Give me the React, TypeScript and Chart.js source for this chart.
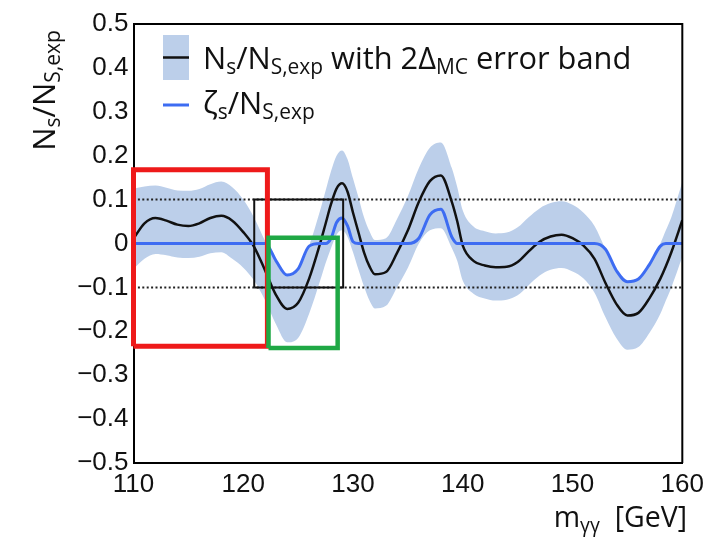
import React, { useEffect, useRef } from 'react';
import { Chart, registerables } from 'chart.js';

Chart.register(...registerables);

// ---------- data ----------
const massGeV = [
  110, 111, 112, 113, 114, 115, 116, 117, 118, 119, 120, 121, 122, 123, 124, 125, 126, 127, 127.5, 128, 128.5, 129,
  129.5, 130, 130.5, 131, 131.5, 132, 133, 134, 135, 136, 137, 138, 139, 139.5, 140, 141, 142, 143, 144, 145, 146,
  147, 148, 149, 150, 151, 152, 153, 154, 155, 156, 157, 158, 158.5, 159, 160,
];
const nsRatio = [
  0.011, 0.046, 0.058, 0.052, 0.043, 0.04, 0.046, 0.058, 0.063, 0.052, 0.026, -0.008, -0.062, -0.118, -0.149, -0.135,
  -0.08, 0.0, 0.045, 0.09, 0.125, 0.137, 0.118, 0.07, 0.025, -0.02, -0.052, -0.07, -0.065, -0.022, 0.03, 0.095, 0.142,
  0.155, 0.095, 0.05, -0.005, -0.04, -0.05, -0.054, -0.053, -0.042, -0.018, 0.004, 0.016, 0.02, 0.012, -0.005, -0.035,
  -0.09, -0.138, -0.164, -0.158, -0.125, -0.08, -0.052, -0.02, 0.053,
];
const bandUpper = [
  0.125, 0.13, 0.132, 0.127, 0.121, 0.12, 0.124, 0.135, 0.141, 0.128, 0.1, 0.058, 0.005, -0.045, -0.072, -0.06, -0.005,
  0.075, 0.12, 0.165, 0.2, 0.212, 0.192, 0.148, 0.105, 0.06, 0.028, 0.008, 0.012, 0.055, 0.108, 0.172, 0.218, 0.23,
  0.172, 0.128, 0.075, 0.038, 0.028, 0.023, 0.025, 0.037, 0.06, 0.08, 0.092, 0.096, 0.088, 0.07, 0.04, -0.012, -0.06,
  -0.086, -0.08, -0.046, 0.0, 0.03, 0.06, 0.14,
];
const bandLower = [
  -0.058, -0.035, -0.024, -0.027, -0.032, -0.033, -0.03, -0.022, -0.02, -0.035, -0.055, -0.085, -0.13, -0.185, -0.225,
  -0.215, -0.16, -0.085, -0.045, -0.01, 0.02, 0.03, 0.015, -0.02, -0.06, -0.098, -0.13, -0.148, -0.142, -0.1, -0.055,
  0.0, 0.03, 0.035, -0.01, -0.04, -0.085, -0.115, -0.125, -0.13, -0.128, -0.118, -0.095, -0.073, -0.06, -0.056,
  -0.064, -0.08, -0.112, -0.168, -0.216, -0.242, -0.236, -0.204, -0.16, -0.13, -0.1, -0.03,
];
const zetaRatio = [
  0, 0, 0, 0, 0, 0, 0, 0, 0, 0, 0, 0, 0, -0.04, -0.072, -0.058, -0.006, 0, 0, 0.012, 0.048, 0.058, 0.04, 0.004, 0, 0,
  0, 0, 0, 0, 0, 0.012, 0.065, 0.078, 0.015, 0, 0, 0, 0, 0, 0, 0, 0, 0, 0, 0, 0, 0, 0, -0.013, -0.062, -0.087, -0.081,
  -0.048, -0.006, 0, 0, 0,
];
const xTickValues = [110, 120, 130, 140, 150, 160];
const yTickLabels = ['−0.5', '−0.4', '−0.3', '−0.2', '−0.1', '0', '0.1', '0.2', '0.3', '0.4', '0.5'];
const dottedLevels = [0.1, -0.1];
const redBoxX = [110, 122.2];
const redBoxY = [-0.234, 0.168];
const blackBoxX = [121.0, 129.1];
const blackBoxY = [-0.1, 0.1];
const greenBoxX = [122.3, 128.6];
const greenBoxY = [-0.238, 0.013];

const BAND = '#bccfea';
const BLUE = '#3d6cf2';
const SANS = '"Liberation Sans", Arial, sans-serif';
const LEG = '"Open Sans", "Noto Sans", sans-serif';

type Part = { t: string; sub?: boolean };

function drawRich(ctx: CanvasRenderingContext2D, parts: Part[], x: number, y: number, size: number, align: 'left' | 'right') {
  const subSize = size * 0.68;
  const widths = parts.map((p) => {
    ctx.font = `${p.sub ? subSize : size}px ${LEG}`;
    return ctx.measureText(p.t).width;
  });
  const total = widths.reduce((a, b) => a + b, 0);
  let cx = align === 'left' ? x : x - total;
  ctx.textAlign = 'left';
  ctx.textBaseline = 'alphabetic';
  parts.forEach((p, i) => {
    ctx.font = `${p.sub ? subSize : size}px ${LEG}`;
    ctx.fillText(p.t, cx, p.sub ? y + size * 0.17 : y);
    cx += widths[i];
  });
}

const boxPoints = (bx: number[], by: number[]) => [
  { x: bx[0], y: by[0] },
  { x: bx[1], y: by[0] },
  { x: bx[1], y: by[1] },
  { x: bx[0], y: by[1] },
  { x: bx[0], y: by[0] },
];

const decorPlugin = {
  id: 'decor',
  afterDraw(chart: any) {
    const { ctx, chartArea } = chart;
    ctx.save();
    // frame top & right
    ctx.strokeStyle = '#000';
    ctx.lineWidth = 2;
    ctx.beginPath();
    ctx.moveTo(chartArea.left, chartArea.top);
    ctx.lineTo(chartArea.right, chartArea.top);
    ctx.lineTo(chartArea.right, chartArea.bottom);
    ctx.stroke();

    // legend
    ctx.fillStyle = BAND;
    ctx.fillRect(163, 35, 26, 45);
    ctx.strokeStyle = '#111';
    ctx.lineWidth = 2.5;
    ctx.beginPath();
    ctx.moveTo(163, 57.5);
    ctx.lineTo(189, 57.5);
    ctx.stroke();
    ctx.strokeStyle = BLUE;
    ctx.lineWidth = 3;
    ctx.beginPath();
    ctx.moveTo(163, 105);
    ctx.lineTo(189, 105);
    ctx.stroke();

    ctx.fillStyle = '#111';
    drawRich(
      ctx,
      [
        { t: 'N' },
        { t: 's', sub: true },
        { t: '/N' },
        { t: 'S,exp', sub: true },
        { t: ' with 2Δ' },
        { t: 'MC', sub: true },
        { t: ' error band' },
      ],
      203,
      69,
      30.8,
      'left'
    );
    drawRich(ctx, [{ t: 'ζ' }, { t: 's', sub: true }, { t: '/N' }, { t: 'S,exp', sub: true }], 203, 114, 30.8, 'left');

    // x title
    drawRich(ctx, [{ t: 'm' }, { t: 'γγ', sub: true }, { t: '  [GeV]' }], 687, 527, 28.5, 'right');

    // y title
    ctx.save();
    ctx.translate(55, 30);
    ctx.rotate(-Math.PI / 2);
    drawRich(ctx, [{ t: 'N' }, { t: 's', sub: true }, { t: '/N' }, { t: 'S,exp', sub: true }], 0, 0, 31, 'right');
    ctx.restore();
    ctx.restore();
  },
};

export default function App() {
  const ref = useRef<HTMLCanvasElement | null>(null);
  useEffect(() => {
    if (!ref.current) return;
    const pts = (ys: number[]) => massGeV.map((m, i) => ({ x: m, y: ys[i] }));
    const chart = new Chart(ref.current, {
      type: 'line',
      data: {
        datasets: [
          {
            label: 'band upper',
            data: pts(bandUpper),
            borderWidth: 0,
            borderColor: 'rgba(0,0,0,0)',
            backgroundColor: BAND,
            fill: '+1',
            pointRadius: 0,
            cubicInterpolationMode: 'monotone',
            order: 20,
          },
          {
            label: 'band lower',
            data: pts(bandLower),
            borderWidth: 0,
            borderColor: 'rgba(0,0,0,0)',
            fill: false,
            pointRadius: 0,
            cubicInterpolationMode: 'monotone',
            order: 21,
          },
          ...dottedLevels.map((lv) => ({
            label: 'dotted',
            data: [
              { x: xTickValues[0], y: lv },
              { x: xTickValues[xTickValues.length - 1], y: lv },
            ],
            borderColor: '#222',
            borderWidth: 2,
            borderDash: [2, 2.4],
            pointRadius: 0,
            fill: false,
            order: 15,
          })),
          {
            label: 'Ns',
            data: pts(nsRatio),
            borderColor: '#111',
            borderWidth: 2.5,
            pointRadius: 0,
            fill: false,
            cubicInterpolationMode: 'monotone',
            order: 6,
          },
          {
            label: 'zeta',
            data: pts(zetaRatio),
            borderColor: BLUE,
            borderWidth: 3,
            pointRadius: 0,
            fill: false,
            cubicInterpolationMode: 'monotone',
            order: 5,
          },
          {
            label: 'black box',
            data: boxPoints(blackBoxX, blackBoxY),
            borderColor: '#111',
            borderWidth: 2,
            pointRadius: 0,
            fill: false,
            tension: 0,
            clip: false,
            order: 3,
          },
          {
            label: 'red box',
            data: boxPoints(redBoxX, redBoxY),
            borderColor: '#ee1a1a',
            borderWidth: 5,
            borderJoinStyle: 'miter',
            pointRadius: 0,
            fill: false,
            tension: 0,
            clip: false,
            order: 2,
          },
          {
            label: 'green box',
            data: boxPoints(greenBoxX, greenBoxY),
            borderColor: '#1fa845',
            borderWidth: 4.5,
            borderJoinStyle: 'miter',
            pointRadius: 0,
            fill: false,
            tension: 0,
            clip: false,
            order: 1,
          },
        ] as any,
      },
      options: {
        animation: false,
        responsive: false,
        devicePixelRatio: 1,
        layout: { padding: { top: 24, right: 27, left: 0, bottom: 0 } },
        plugins: { legend: { display: false }, tooltip: { enabled: false } },
        scales: {
          x: {
            type: 'linear',
            min: 110,
            max: 160,
            afterBuildTicks: (s: any) => {
              s.ticks = xTickValues.map((v) => ({ value: v }));
            },
            afterFit: (s: any) => {
              s.height = 74;
            },
            grid: { display: false, drawTicks: false },
            border: { display: true, color: '#000', width: 2 },
            ticks: {
              color: '#111',
              font: { family: SANS, size: 26 },
              padding: 6,
              maxRotation: 0,
              autoSkip: false,
              callback: (v: any) => String(v),
            },
          },
          y: {
            type: 'linear',
            min: -0.5,
            max: 0.5,
            afterBuildTicks: (s: any) => {
              s.ticks = yTickLabels.map((_, i) => ({ value: -0.5 + i * 0.1 }));
            },
            afterFit: (s: any) => {
              s.width = 133.5;
            },
            grid: { display: false, drawTicks: false },
            border: { display: true, color: '#000', width: 2 },
            ticks: {
              color: '#111',
              font: { family: SANS, size: 26 },
              padding: 5,
              autoSkip: false,
              callback: (_v: any, i: number) => yTickLabels[i],
            },
          },
        },
      },
      plugins: [decorPlugin],
    });
    return () => chart.destroy();
  }, []);
  return (
    <div style={{ position: 'absolute', left: 0, top: 0, width: 710, height: 537, background: '#fff' }}>
      <canvas ref={ref} width={710} height={537} />
    </div>
  );
}
